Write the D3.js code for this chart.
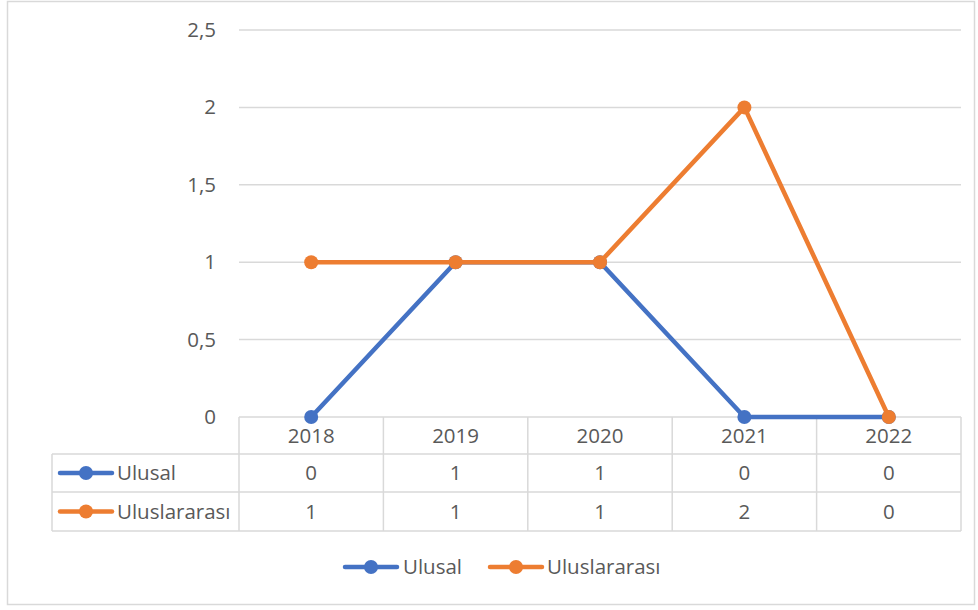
<!DOCTYPE html>
<html>
<head>
<meta charset="utf-8">
<script src="https://cdn.jsdelivr.net/npm/d3@7"></script>
<style>
  html, body { margin: 0; padding: 0; background: #fff; }
  svg { display: block; font-family: "Open Sans", Lato, sans-serif; }
</style>
</head>
<body>
<svg id="chart" width="978" height="610"></svg>
<script>
const years = ["2018", "2019", "2020", "2021", "2022"];
const ulusal = [0, 1, 1, 0, 0];
const uluslararasi = [1, 1, 1, 2, 0];
const seriesNames = ["Ulusal", "Uluslararası"];
const seriesColors = ["#4472C4", "#ED7D31"];
const yTicks = [0, 0.5, 1, 1.5, 2, 2.5];

const series = [
  { name: seriesNames[0], values: ulusal, color: seriesColors[0] },
  { name: seriesNames[1], values: uluslararasi, color: seriesColors[1] }
];

const svg = d3.select("#chart");
const textColor = "#595959";
const gridColor = "#D9D9D9";
const fontSize = 20.5;
const fontFamily = "'Open Sans', Lato, sans-serif";

// outer frame
svg.append("rect").attr("x", 7.5).attr("y", 1.5).attr("width", 967).attr("height", 603)
  .attr("fill", "#fff").attr("stroke", gridColor).attr("stroke-width", 1.5);

const plotLeft = 239, plotRight = 961;
const x = d3.scaleBand().domain(years).range([plotLeft, plotRight]);
const y = d3.scaleLinear().domain([0, 2.5]).range([417, 30]);
const fmt = d => String(d).replace(".", ",");

// gridlines
svg.append("g").selectAll("line").data(yTicks.filter(t => t > 0)).join("line")
  .attr("x1", plotLeft).attr("x2", plotRight)
  .attr("y1", d => y(d)).attr("y2", d => y(d))
  .attr("stroke", gridColor).attr("stroke-width", 1.5);

// y axis labels
const yAxis = d3.axisLeft(y).tickValues(yTicks).tickFormat(fmt).tickSize(0).tickPadding(0);
const gy = svg.append("g").attr("transform", "translate(216,0)").call(yAxis);
gy.select(".domain").remove();
gy.selectAll("text").attr("fill", textColor).attr("font-size", fontSize).attr("font-family", fontFamily);

// data table
const rowTops = [417, 454, 492, 531];
const tableLeft = 52;
const tg = svg.append("g");
tg.append("line").attr("x1", plotLeft).attr("x2", plotRight).attr("y1", rowTops[0]).attr("y2", rowTops[0])
  .attr("stroke", gridColor).attr("stroke-width", 1.5);
rowTops.slice(1).forEach(yy => {
  tg.append("line").attr("x1", tableLeft).attr("x2", plotRight).attr("y1", yy).attr("y2", yy)
    .attr("stroke", gridColor).attr("stroke-width", 1.5);
});
const colEdges = years.map(yr => x(yr)).concat([plotRight]);
colEdges.forEach(xx => {
  tg.append("line").attr("x1", xx).attr("x2", xx).attr("y1", rowTops[0]).attr("y2", rowTops[3])
    .attr("stroke", gridColor).attr("stroke-width", 1.5);
});
tg.append("line").attr("x1", tableLeft).attr("x2", tableLeft).attr("y1", rowTops[1]).attr("y2", rowTops[3])
  .attr("stroke", gridColor).attr("stroke-width", 1.5);

// header years
tg.selectAll("text.year").data(years).join("text").attr("class", "year")
  .attr("x", d => x(d) + x.bandwidth() / 2).attr("y", (rowTops[0] + rowTops[1]) / 2)
  .attr("dy", "0.35em").attr("text-anchor", "middle")
  .attr("fill", textColor).attr("font-size", fontSize).text(d => d);

function legendKey(g, cx, cy, color) {
  g.append("line").attr("x1", cx - 26).attr("x2", cx + 26).attr("y1", cy).attr("y2", cy)
    .attr("stroke", color).attr("stroke-width", 4.5).attr("stroke-linecap", "round");
  g.append("circle").attr("cx", cx).attr("cy", cy).attr("r", 7).attr("fill", color);
}

series.forEach((s, i) => {
  const cy = (rowTops[i + 1] + rowTops[i + 2]) / 2;
  legendKey(tg, 86, cy, s.color);
  tg.append("text").attr("x", 117).attr("y", cy).attr("dy", "0.35em")
    .attr("fill", textColor).attr("font-size", fontSize).text(s.name);
  tg.selectAll(null).data(s.values).join("text")
    .attr("x", (d, j) => x(years[j]) + x.bandwidth() / 2).attr("y", cy).attr("dy", "0.35em")
    .attr("text-anchor", "middle").attr("fill", textColor).attr("font-size", fontSize)
    .text(d => fmt(d));
});

// lines and markers
const line = d3.line().x((d, i) => x(years[i]) + x.bandwidth() / 2).y(d => y(d));
series.forEach(s => {
  const g = svg.append("g");
  g.append("path").attr("d", line(s.values)).attr("fill", "none")
    .attr("stroke", s.color).attr("stroke-width", 4.5).attr("stroke-linejoin", "round").attr("stroke-linecap", "round");
  g.selectAll("circle").data(s.values).join("circle")
    .attr("cx", (d, i) => x(years[i]) + x.bandwidth() / 2).attr("cy", d => y(d))
    .attr("r", 7).attr("fill", s.color);
});

// bottom legend
const lg = svg.append("g");
const legendY = 567;
const legendPos = [{ key: 371, text: 403 }, { key: 516, text: 547 }];
series.forEach((s, i) => {
  legendKey(lg, legendPos[i].key, legendY, s.color);
  lg.append("text").attr("x", legendPos[i].text).attr("y", legendY).attr("dy", "0.35em")
    .attr("fill", textColor).attr("font-size", fontSize).text(s.name);
});
</script>
</body>
</html>
